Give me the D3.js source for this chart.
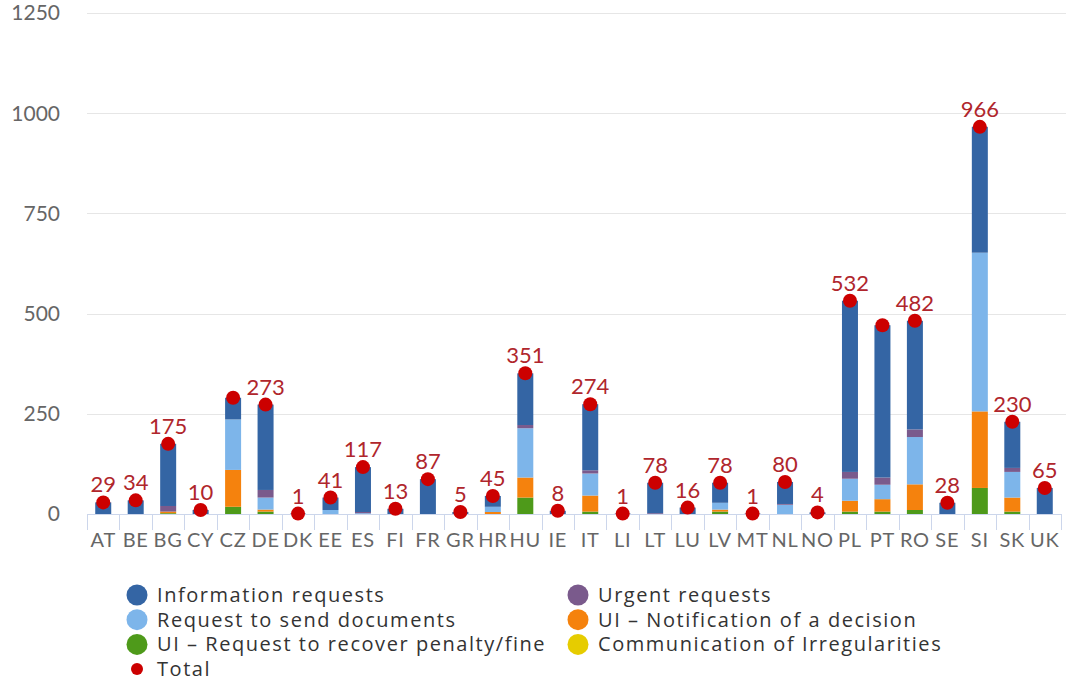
<!DOCTYPE html>
<html>
<head>
<meta charset="utf-8">
<script src="https://cdn.jsdelivr.net/npm/d3@7"></script>
<style>
  html, body { margin: 0; padding: 0; background: #fff; }
  svg { display: block; font-family: Lato, "Open Sans", sans-serif; }
</style>
</head>
<body>
<svg id="chart" width="1066" height="681"></svg>
<script>
const categories = ["AT","BE","BG","CY","CZ","DE","DK","EE","ES","FI","FR","GR","HR","HU","IE","IT","LI","LT","LU","LV","MT","NL","NO","PL","PT","RO","SE","SI","SK","UK"];

const informationRequests = [29,34,155,10,54,213,1,31,112,13,87,5,27,129,8,165,1,76,16,50,1,55,4,427,380,271,28,314,115,65];
const urgentRequests      = [0,0,14,0,0,19,0,0,3,0,0,0,0,8,0,8,0,2,0,0,0,2,0,17,18,19,0,0,10,0];
const requestSendDocs     = [0,0,0,0,126,30,0,10,2,0,0,0,13,123,0,55,0,0,0,17,0,23,0,55,36,118,0,396,64,0];
const uiNotification      = [0,0,4,0,92,5,0,0,0,0,0,0,5,50,0,40,0,0,0,5,0,0,0,27,31,64,0,191,35,0];
const uiRecover           = [0,0,2,0,18,6,0,0,0,0,0,0,0,41,0,6,0,0,0,6,0,0,0,6,6,10,0,65,6,0];
const irregularities      = [0,0,0,0,0,0,0,0,0,0,0,0,0,0,0,0,0,0,0,0,0,0,0,0,0,0,0,0,0,0];
const totals              = [29,34,175,10,290,273,1,41,117,13,87,5,45,351,8,274,1,78,16,78,1,80,4,532,471,482,28,966,230,65];
const hiddenTotalLabels   = ["CZ","PT"];

const yTicks = [0,250,500,750,1000,1250];

const seriesNames = ["Information requests","Urgent requests","Request to send documents","UI – Notification of a decision","UI – Request to recover penalty/fine","Communication of Irregularities"];
const seriesValues = [informationRequests, urgentRequests, requestSendDocs, uiNotification, uiRecover, irregularities];
const seriesColors = ["#3465a4","#7a5a8c","#7db5ea","#f5820d","#4e9a1a","#e6cc00"];
const totalColor = "#cc0000";
const labelColor = "#b0262c";

const svg = d3.select("#chart");

const xOuter = d3.scaleBand().domain(categories).range([87, 1061]);
const y = d3.scaleLinear().domain([0,1250]).range([514, 13]);

// gridlines
svg.append("g").selectAll("line").data(yTicks.filter(d => d > 0)).join("line")
  .attr("x1", 87).attr("x2", 1066)
  .attr("y1", d => Math.round(y(d)) + 0.5).attr("y2", d => Math.round(y(d)) + 0.5)
  .attr("stroke", "#e6e6e6").attr("stroke-width", 1);

// y labels
svg.append("g").selectAll("text").data(yTicks).join("text")
  .attr("x", 60).attr("y", d => y(d)).attr("dy", "0.35em")
  .attr("text-anchor", "end").attr("fill", "#666").attr("font-size", 21)
  .text(d => d);

// stacked data
const stackInput = categories.map((c, i) => {
  const o = { cat: c };
  seriesNames.forEach((s, k) => o[s] = seriesValues[k][i]);
  return o;
});
const stackOrder = seriesNames.slice().reverse(); // bottom first
const stacked = d3.stack().keys(stackOrder)(stackInput);

const bandW = xOuter.bandwidth();
const barW = 16;
svg.append("g").selectAll("g").data(stacked).join("g")
  .attr("fill", d => seriesColors[seriesNames.indexOf(d.key)])
  .selectAll("rect").data(d => d).join("rect")
  .attr("x", d => xOuter(d.data.cat) + bandW / 2 - barW / 2)
  .attr("width", barW)
  .attr("y", d => y(d[1]))
  .attr("height", d => Math.max(0, y(d[0]) - y(d[1])));

// x axis
const axisG = svg.append("g");
axisG.append("line").attr("x1", 87).attr("x2", 1061).attr("y1", 514.5).attr("y2", 514.5)
  .attr("stroke", "#ccd6eb");
const boundaries = categories.map(c => xOuter(c)).concat([xOuter(categories[categories.length-1]) + bandW]);
axisG.selectAll("line.tick").data(boundaries).join("line").attr("class","tick")
  .attr("x1", d => Math.round(d) + 0.5).attr("x2", d => Math.round(d) + 0.5)
  .attr("y1", 514).attr("y2", 530).attr("stroke", "#ccd6eb");
axisG.selectAll("text").data(categories).join("text")
  .attr("x", d => xOuter(d) + bandW / 2).attr("y", 547)
  .attr("text-anchor", "middle").attr("fill", "#666").attr("font-size", 20)
  .attr("letter-spacing", 0.8)
  .text(d => d);

// totals
const tg = svg.append("g");
tg.selectAll("circle").data(categories).join("circle")
  .attr("cx", d => xOuter(d) + bandW / 2)
  .attr("cy", (d, i) => y(totals[i]))
  .attr("r", 7).attr("fill", totalColor);
tg.selectAll("text").data(categories.filter(c => !hiddenTotalLabels.includes(c))).join("text")
  .attr("x", d => xOuter(d) + bandW / 2)
  .attr("y", d => y(totals[categories.indexOf(d)]) - 10)
  .attr("text-anchor", "middle").attr("fill", labelColor).attr("font-size", 22)
  .text(d => totals[categories.indexOf(d)]);

// legend
const legendItems = seriesNames.map((n, k) => ({ name: n, color: seriesColors[k], r: 10.5 }))
  .concat([{ name: "Total", color: totalColor, r: 6 }]);
const lg = svg.append("g");
const li = lg.selectAll("g").data(legendItems).join("g")
  .attr("transform", (d, i) => `translate(${i % 2 === 0 ? 137 : 578},${595 + Math.floor(i / 2) * 24.7})`);
li.append("circle").attr("r", d => d.r).attr("fill", d => d.color);
li.append("text").attr("x", 20).attr("dy", "0.35em").attr("fill", "#333")
  .attr("font-family", "'Open Sans', sans-serif")
  .attr("font-size", 20).attr("letter-spacing", 1.55).text(d => d.name);
</script>
</body>
</html>
